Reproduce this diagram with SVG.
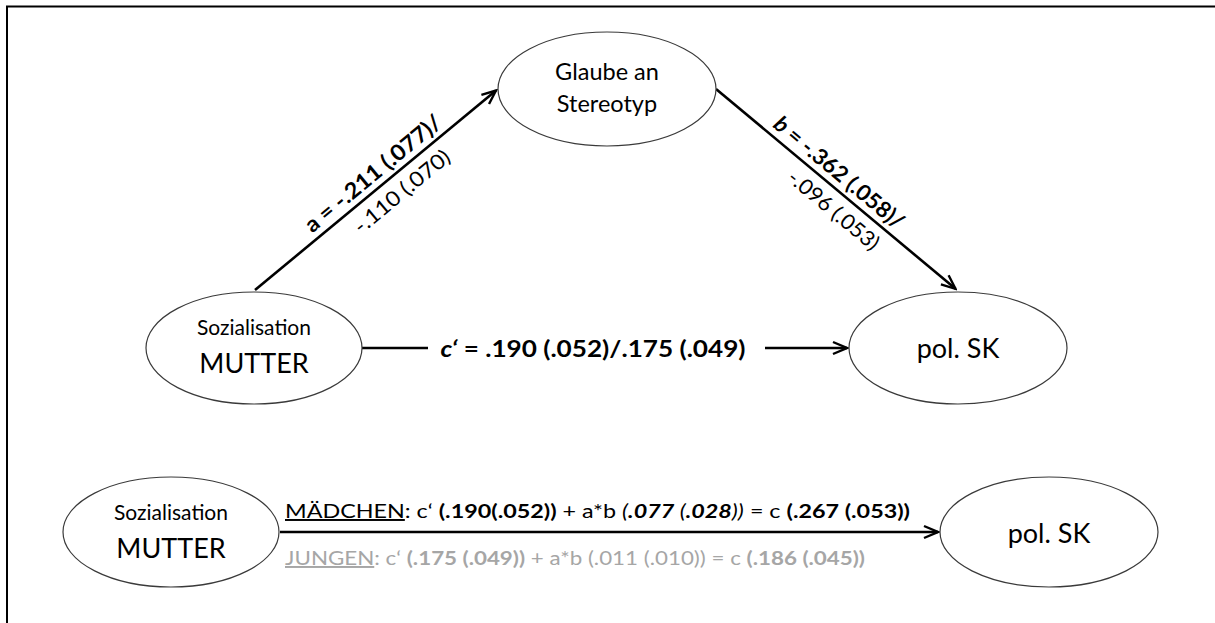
<svg xmlns="http://www.w3.org/2000/svg" width="1215" height="623" viewBox="0 0 1215 623">
  <defs>
    <style>
      text { font-family: Lato, "Open Sans", "Liberation Sans", sans-serif; fill: #000; }
      .node { fill: #fff; stroke: #3a3a3a; stroke-width: 1.2; }
      .edge { stroke: #000; stroke-width: 2.6; fill: none; }
      .lbl-sm { font-size: 21px; }
      .lbl-lg { font-size: 27px; }
      .rot-b { font-size: 22px; font-weight: bold; }
      .rot-r { font-size: 21px; }
      .eq { font-size: 19.5px; }
      .gray, .gray tspan { fill: #a6a6a6; }
      .b { font-weight: bold; }
      .i { font-style: italic; }
      .u { text-decoration: underline; }
    </style>
    <marker id="arrow" viewBox="-16 -8 18 16" refX="0" refY="0" markerWidth="18" markerHeight="16" markerUnits="userSpaceOnUse" orient="auto">
      <path d="M -14 -6 L 0 0 L -14 6" fill="none" stroke="#000" stroke-width="2.4" stroke-linejoin="miter"/>
    </marker>
  </defs>

  <!-- frame -->
  <rect x="7" y="6.5" width="1230" height="640" fill="none" stroke="#000" stroke-width="2"/>

  <!-- connectors -->
  <g id="connectors">
    <line class="edge" x1="255" y1="290" x2="496" y2="90.5" marker-end="url(#arrow)"/>
    <line class="edge" x1="716" y1="89" x2="955.5" y2="288.8" marker-end="url(#arrow)"/>
    <line class="edge" x1="362" y1="348" x2="428" y2="348"/>
    <line class="edge" x1="765" y1="348" x2="847" y2="348" marker-end="url(#arrow)"/>
    <line class="edge" x1="280" y1="532" x2="938" y2="532" marker-end="url(#arrow)"/>

    <!-- path a -->
    <g transform="translate(255 290) rotate(-39.6)">
      <text class="rot-b" x="165" y="-7" text-anchor="middle" textLength="170" lengthAdjust="spacingAndGlyphs">a = -.211 (.077)/</text>
      <text class="rot-r" x="176" y="25" text-anchor="middle" textLength="118" lengthAdjust="spacingAndGlyphs">-.110 (.070)</text>
    </g>
    <!-- path b -->
    <g transform="translate(716 89) rotate(39.8)">
      <text class="rot-b" x="148" y="-7" text-anchor="middle" textLength="162" lengthAdjust="spacingAndGlyphs"><tspan class="i">b</tspan> = -.362 (.058)/</text>
      <text class="rot-r" x="168" y="25" text-anchor="middle" textLength="112" lengthAdjust="spacingAndGlyphs">-.096 (.053)</text>
    </g>
    <!-- direct path c' -->
    <text x="593" y="357" text-anchor="middle" font-size="23.5" font-weight="bold" textLength="305" lengthAdjust="spacingAndGlyphs"><tspan class="i">c‘</tspan> = .190 (.052)/.175 (.049)</text>

    <!-- total effect, girls -->
    <text class="eq" x="285" y="518" textLength="625" lengthAdjust="spacingAndGlyphs"><tspan class="u">MÄDCHEN</tspan>: c‘  <tspan class="b">(.190(.052))</tspan> + a*b <tspan class="i">(</tspan><tspan class="i b">.077</tspan><tspan class="i"> (</tspan><tspan class="i b">.028</tspan><tspan class="i">))</tspan> = c <tspan class="b">(.267 (.053))</tspan></text>
    <!-- total effect, boys -->
    <text class="eq gray" x="285" y="565" textLength="580" lengthAdjust="spacingAndGlyphs"><tspan class="u">JUNGEN</tspan>: c‘  <tspan class="b">(.175 (.049))</tspan> + a*b (.011 (.010)) = c <tspan class="b">(.186 (.045))</tspan></text>
  </g>

  <g id="stereotyp">
    <ellipse class="node" cx="607" cy="89" rx="109" ry="57"/>
    <text x="607" y="80" text-anchor="middle" font-size="23.5">Glaube an</text>
    <text x="607" y="112" text-anchor="middle" font-size="23.5">Stereotyp</text>
  </g>

  <g id="mutter-top">
    <ellipse class="node" cx="254" cy="348" rx="108" ry="56"/>
    <text class="lbl-sm" x="254" y="335" text-anchor="middle">Sozialisation</text>
    <text class="lbl-lg" x="254" y="373" text-anchor="middle">MUTTER</text>
  </g>

  <g id="polsk-top">
    <ellipse class="node" cx="958" cy="348" rx="109" ry="56"/>
    <text class="lbl-lg" x="958" y="358" text-anchor="middle">pol. SK</text>
  </g>

  <g id="mutter-bottom">
    <ellipse class="node" cx="171" cy="532" rx="108" ry="55"/>
    <text class="lbl-sm" x="171" y="520" text-anchor="middle">Sozialisation</text>
    <text class="lbl-lg" x="171" y="558" text-anchor="middle">MUTTER</text>
  </g>

  <g id="polsk-bottom">
    <ellipse class="node" cx="1049" cy="532" rx="109" ry="55"/>
    <text class="lbl-lg" x="1049" y="543" text-anchor="middle">pol. SK</text>
  </g>
</svg>
